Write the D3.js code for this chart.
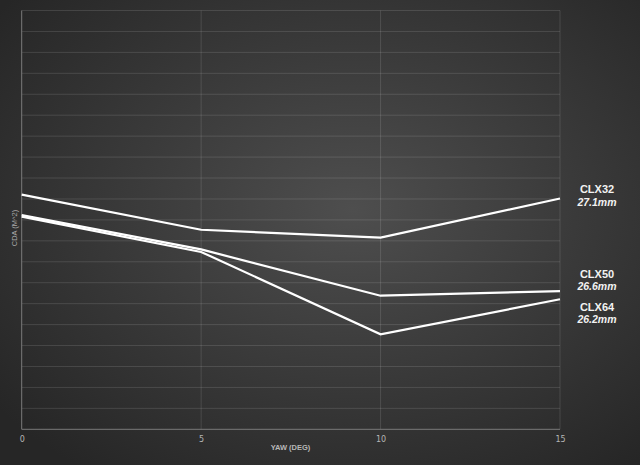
<!DOCTYPE html>
<html><head><meta charset="utf-8">
<script src="https://cdn.jsdelivr.net/npm/d3@7"></script>
<style>html,body{margin:0;padding:0;background:#333;}svg{display:block;}</style>
</head><body><svg id="c" width="640" height="465"></svg>
<script>
const yaw = [0, 5, 10, 15];
const xTicks = [0, 5, 10, 15];
const seriesNames = ["CLX32", "CLX50", "CLX64"];
const seriesDepths = ["27.1mm", "26.6mm", "26.2mm"];
const clx32 = [11.21, 9.53, 9.15, 11.02];
const clx50 = [10.23, 8.59, 6.38, 6.60];
const clx64 = [10.16, 8.47, 4.54, 6.21];
const yGrid = d3.range(0, 21, 1);

const svg = d3.select("#c");
const W = 640, H = 465;
const defs = svg.append("defs");
const rg = defs.append("radialGradient").attr("id","bg")
  .attr("cx","55%").attr("cy","45%").attr("r","70%");
rg.append("stop").attr("offset","0%").attr("stop-color","#4e4e4e");
rg.append("stop").attr("offset","100%").attr("stop-color","#262626");
svg.append("rect").attr("width",W).attr("height",H).attr("fill","url(#bg)");

const x = d3.scaleLinear().domain([0,15]).range([21.7,560]);
const y = d3.scaleLinear().domain([0,20]).range([429.3,10.5]);

svg.append("g").selectAll("line").data(yGrid.filter(d=>d>0)).join("line")
  .attr("x1",x(0)).attr("x2",x(15)).attr("y1",d=>y(d)).attr("y2",d=>y(d))
  .attr("stroke","rgba(255,255,255,0.12)").attr("stroke-width",1);
svg.append("g").selectAll("line").data(xTicks.filter(d=>d>0)).join("line")
  .attr("x1",d=>x(d)).attr("x2",d=>x(d)).attr("y1",y(0)).attr("y2",y(20))
  .attr("stroke","rgba(255,255,255,0.12)").attr("stroke-width",1);
svg.append("line").attr("x1",x(0)).attr("x2",x(0)).attr("y1",y(0)).attr("y2",y(20))
  .attr("stroke","#7a7a7a").attr("stroke-width",1);
svg.append("line").attr("x1",x(0)).attr("x2",x(15)).attr("y1",y(0)).attr("y2",y(0))
  .attr("stroke","#7a7a7a").attr("stroke-width",1);

const xAxis = d3.axisBottom(x).tickValues(xTicks).tickSize(0).tickPadding(7);
const gx = svg.append("g").attr("transform",`translate(0,${y(0)})`).call(xAxis);
gx.select(".domain").remove();
gx.selectAll("text").attr("fill","#b5b5b5").attr("font-family","DejaVu Sans, sans-serif").attr("font-size",8);

svg.append("text").attr("x",290.5).attr("y",450).attr("text-anchor","middle")
  .attr("fill","#b8b8b8").attr("font-family","Liberation Sans, Arial, sans-serif")
  .attr("font-weight","bold").attr("font-size",7.5).text("YAW (DEG)");
svg.append("text").attr("transform","translate(17,228) rotate(-90)").attr("text-anchor","middle")
  .attr("fill","#aaaaaa").attr("font-family","Liberation Sans, Arial, sans-serif")
  .attr("font-size",7.5).text("CDA (M^2)");

const line = d3.line().x((d,i)=>x(yaw[i])).y(d=>y(d));
[clx32, clx50, clx64].forEach(s=>{
  svg.append("path").attr("d",line(s)).attr("fill","none")
    .attr("stroke","#ffffff").attr("stroke-width",2.2).attr("stroke-linejoin","miter");
});

const labelY = [[189, 202], [273.5, 286], [307, 319]];
seriesNames.forEach((n,i)=>{
  svg.append("text").attr("x",597).attr("y",labelY[i][0]+4).attr("text-anchor","middle")
    .attr("fill","#f2f2f2").attr("font-family","Liberation Sans, Arial, sans-serif")
    .attr("font-weight","bold").attr("font-size",11).text(n);
  svg.append("text").attr("x",597).attr("y",labelY[i][1]+4).attr("text-anchor","middle")
    .attr("fill","#f2f2f2").attr("font-family","Liberation Sans, Arial, sans-serif")
    .attr("font-weight","bold").attr("font-style","italic").attr("font-size",10.5).text(seriesDepths[i]);
});
</script></body></html>
